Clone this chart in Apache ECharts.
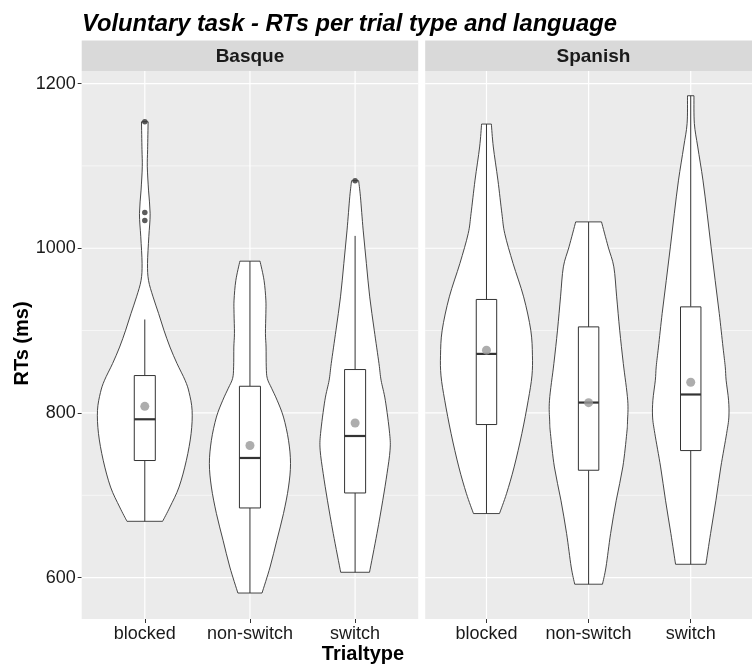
<!DOCTYPE html>
<html>
<head>
<meta charset="utf-8">
<script src="https://cdn.jsdelivr.net/npm/echarts@6/dist/echarts.min.js"></script>
<style>
html,body{margin:0;padding:0;background:#ffffff;}
#chart{width:752px;height:665px;}
</style>
</head>
<body>
<div id="chart"></div>
<script>
// ---------------- data ----------------
const categories = ['blocked', 'non-switch', 'switch'];
const languages = ['Basque', 'Spanish'];
const yTickValues = [600, 800, 1000, 1200];
const yMinorValues = [700, 900, 1100];

// box statistics: [lower whisker, Q1, median, Q3, upper whisker]
const boxBasque = [
  [668.4, 742.2, 792.3, 845.4, 913.5],
  [581.3, 684.6, 745.3, 832.4, 984.3],
  [606.5, 702.8, 772.0, 852.7, 1015.0]
];
const boxSpanish = [
  [677.8, 785.9, 871.7, 937.8, 1150.8],
  [592.0, 730.4, 812.6, 904.5, 1032.0],
  [616.2, 754.3, 822.4, 928.8, 1185.2]
];
const meanBasque = [808.0, 760.4, 787.8];
const meanSpanish = [876.2, 812.5, 837.3];
const outliersBasque = [[1, 1153.6], [1, 1043.5], [1, 1033.8], [3, 1082.0]];
const outliersSpanish = [];

// violin density profiles: [RT, relative density], from top to bottom
const violinBasqueBlocked = [
  [1153.6, 3.3], [1120, 2.8], [1099, 2.5], [1070.6, 3.7], [1042, 5.3], [1014, 4.0],
  [981.5, 2.7], [961, 3.7], [941, 8.2], [920.8, 13.7], [900.5, 19], [880, 25],
  [860, 32], [839.7, 40], [825, 44], [803, 47], [775, 46], [742.5, 41.3],
  [710, 34], [685.8, 25], [668.4, 17.7]
];
const violinBasqueNonSwitch = [
  [984.3, 10], [961, 14], [937, 15.8], [920.8, 15.8], [896.5, 15.4], [880, 16],
  [856, 16.2], [842, 17.2], [830, 21.5], [815.4, 27], [795, 33.3], [766.8, 38.3],
  [738.5, 40.3], [710, 38.3], [677.8, 33.3], [645.3, 26.7], [612.9, 20], [581.3, 12]
];
const violinBasqueSwitch = [
  [1082, 3.5], [1062.5, 5.3], [1022, 8], [981.5, 11.2], [941, 14.5], [900.5, 19],
  [860, 23.7], [839.7, 25.8], [815.4, 30], [775, 34.3], [754.7, 34.7], [726.4, 31.7],
  [694, 27.5], [653.5, 21.7], [606.5, 14.3]
];
const violinSpanishBlocked = [
  [1150.8, 5], [1123, 7], [1082.7, 11.7], [1042, 15.8], [1017.8, 18.7], [981.5, 27.2],
  [941, 38], [900.5, 45.3], [870, 47], [845, 46.5], [815.4, 42.7], [775, 36.2],
  [734.4, 28.3], [702, 20.5], [677.8, 13.3]
];
const violinSpanishNonSwitch = [
  [1032, 13.2], [1001.7, 20], [977.4, 25.8], [941, 28.7], [900.5, 31.8], [860, 35.5],
  [815.4, 40], [790, 39.8], [775, 39], [734.4, 35], [694, 28.3], [653.5, 22.5],
  [612.9, 17.8], [592, 14.2]
];
const violinSpanishSwitch = [
  [1185.2, 3.3], [1151.6, 3.7], [1123, 7.2], [1082.7, 12.5], [1042, 16.8], [1001.7, 20.8],
  [961, 25], [920.8, 29.2], [880, 33], [856, 35.3], [839.7, 36.2], [815.4, 38.7],
  [795, 39], [775, 36.7], [734.4, 30.8], [694, 25.8], [653.5, 20.3], [616.2, 15.5]
];

// ---------------- assembly ----------------
const violins = [
  [violinBasqueBlocked, violinBasqueNonSwitch, violinBasqueSwitch],
  [violinSpanishBlocked, violinSpanishNonSwitch, violinSpanishSwitch]
];
const boxes = [boxBasque, boxSpanish];
const means = [meanBasque, meanSpanish];
const outliers = [outliersBasque, outliersSpanish];

let maxDensity = 0;
violins.forEach(g => g.forEach(v => v.forEach(p => { if (p[1] > maxDensity) maxDensity = p[1]; })));
const violinHalfWidth = 0.45;   // ggplot violin width 0.9
const boxHalfWidth = 0.1;       // boxplot width 0.2

const Y_MIN = 549.75, Y_MAX = 1215.25;
const FONT = '"Liberation Sans", Arial, sans-serif';
const TXT = '#1A1A1A';

function f(n) { return n.toFixed(2); }
function splinePath(pts, move) {
  let d = (move ? 'M' : 'L') + f(pts[0][0]) + ' ' + f(pts[0][1]);
  for (let i = 0; i < pts.length - 1; i++) {
    const p0 = pts[i - 1] || pts[i], p1 = pts[i], p2 = pts[i + 1], p3 = pts[i + 2] || pts[i + 1];
    const c1x = p1[0] + (p2[0] - p0[0]) / 6, c1y = p1[1] + (p2[1] - p0[1]) / 6;
    const c2x = p2[0] - (p3[0] - p1[0]) / 6, c2y = p2[1] - (p3[1] - p1[1]) / 6;
    d += 'C' + f(c1x) + ' ' + f(c1y) + ' ' + f(c2x) + ' ' + f(c2y) + ' ' + f(p2[0]) + ' ' + f(p2[1]);
  }
  return d;
}

const grids = [
  { left: 81.7, top: 71, width: 336.5, height: 548, show: true, backgroundColor: '#EBEBEB', borderWidth: 0 },
  { left: 425.2, top: 71, width: 336.5, height: 548, show: true, backgroundColor: '#EBEBEB', borderWidth: 0 }
];

const xAxes = [0, 1].map(i => ({
  type: 'value', gridIndex: i, min: 0.4, max: 3.6,
  axisLine: { show: false }, splitLine: { show: false },
  axisTick: { show: true, customValues: [1, 2, 3], length: 4, lineStyle: { color: '#333333', width: 1 } },
  axisLabel: { customValues: [1, 2, 3], formatter: v => categories[Math.round(v) - 1],
    fontSize: 18, fontFamily: FONT, color: TXT, margin: 6 }
}));
const yAxes = [
  { type: 'value', gridIndex: 0, min: Y_MIN, max: Y_MAX,
    axisLine: { show: false }, splitLine: { show: false },
    axisTick: { show: true, customValues: yTickValues, length: 4, lineStyle: { color: '#333333', width: 1 } },
    axisLabel: { customValues: yTickValues, formatter: v => String(Math.round(v)),
      fontSize: 18, fontFamily: FONT, color: TXT, margin: 6 } },
  { type: 'value', gridIndex: 1, min: Y_MIN, max: Y_MAX, show: false,
    axisLine: { show: false }, splitLine: { show: false }, axisTick: { show: false }, axisLabel: { show: false } }
];

const series = [];
[0, 1].forEach(g => {
  // panel grid lines
  series.push({
    type: 'custom', xAxisIndex: g, yAxisIndex: g, z: 1, silent: true,
    data: [[2, 800]], encode: { x: 0, y: 1 },
    renderItem: (params, api) => {
      const cs = params.coordSys;
      const children = [];
      yMinorValues.forEach(v => {
        const py = api.coord([2, v])[1];
        children.push({ type: 'line', shape: { x1: cs.x, y1: py, x2: cs.x + cs.width, y2: py },
          style: { stroke: '#FFFFFF', lineWidth: 0.6 } });
      });
      yTickValues.forEach(v => {
        const py = api.coord([2, v])[1];
        children.push({ type: 'line', shape: { x1: cs.x, y1: py, x2: cs.x + cs.width, y2: py },
          style: { stroke: '#FFFFFF', lineWidth: 1.2 } });
      });
      [1, 2, 3].forEach(c => {
        const px = api.coord([c, 800])[0];
        children.push({ type: 'line', shape: { x1: px, y1: cs.y, x2: px, y2: cs.y + cs.height },
          style: { stroke: '#FFFFFF', lineWidth: 1.2 } });
      });
      return { type: 'group', children };
    }
  });
  // violins
  series.push({
    type: 'custom', xAxisIndex: g, yAxisIndex: g, z: 2, silent: true,
    data: categories.map((c, i) => [i + 1, 800]), encode: { x: 0, y: 1 },
    renderItem: (params, api) => {
      const cx = api.value(0);
      const prof = violins[g][params.dataIndex];
      const right = prof.map(p => api.coord([cx + violinHalfWidth * p[1] / maxDensity, p[0]]));
      const left = prof.map(p => api.coord([cx - violinHalfWidth * p[1] / maxDensity, p[0]])).reverse();
      const d = splinePath(right, true) + splinePath(left, false) + 'Z';
      return { type: 'path', shape: { pathData: d },
        style: { fill: '#FFFFFF', stroke: '#333333', lineWidth: 0.9 } };
    }
  });
  // boxplots
  series.push({
    type: 'custom', xAxisIndex: g, yAxisIndex: g, z: 3, silent: true,
    data: boxes[g].map((b, i) => [i + 1].concat(b)), encode: { x: 0, y: [1, 2, 3, 4, 5] },
    renderItem: (params, api) => {
      const cx = api.value(0);
      const lw = api.coord([cx, api.value(1)]);
      const q1 = api.coord([cx, api.value(2)]);
      const md = api.coord([cx, api.value(3)]);
      const q3 = api.coord([cx, api.value(4)]);
      const uw = api.coord([cx, api.value(5)]);
      const xl = api.coord([cx - boxHalfWidth, 800])[0];
      const xr = api.coord([cx + boxHalfWidth, 800])[0];
      const st = { stroke: '#333333', lineWidth: 1 };
      return { type: 'group', children: [
        { type: 'line', shape: { x1: uw[0], y1: uw[1], x2: q3[0], y2: q3[1] }, style: st },
        { type: 'line', shape: { x1: lw[0], y1: lw[1], x2: q1[0], y2: q1[1] }, style: st },
        { type: 'rect', shape: { x: xl, y: q3[1], width: xr - xl, height: q1[1] - q3[1] },
          style: { fill: '#FFFFFF', stroke: '#333333', lineWidth: 1 } },
        { type: 'line', shape: { x1: xl, y1: md[1], x2: xr, y2: md[1] },
          style: { stroke: '#333333', lineWidth: 2.2 } }
      ] };
    }
  });
  // means
  series.push({
    type: 'scatter', xAxisIndex: g, yAxisIndex: g, z: 4, silent: true,
    symbol: 'circle', symbolSize: 9,
    itemStyle: { color: '#999999' },
    data: means[g].map((m, i) => [i + 1, m])
  });
  // outliers
  series.push({
    type: 'scatter', xAxisIndex: g, yAxisIndex: g, z: 4, silent: true,
    symbol: 'circle', symbolSize: 5.5,
    itemStyle: { color: '#333333' },
    data: outliers[g]
  });
});

const graphic = [
  { type: 'text', x: 82, y: 24, style: { text: 'Voluntary task - RTs per trial type and language',
      font: 'italic bold 23.7px ' + FONT, fill: '#000000', align: 'left', verticalAlign: 'middle' } },
  { type: 'rect', shape: { x: 81.7, y: 40.5, width: 336.5, height: 30.5 }, style: { fill: '#D9D9D9' } },
  { type: 'rect', shape: { x: 425.2, y: 40.5, width: 336.5, height: 30.5 }, style: { fill: '#D9D9D9' } },
  { type: 'text', x: 81.7 + 336.5 / 2, y: 56.5, style: { text: languages[0],
      font: 'bold 19px ' + FONT, fill: TXT, align: 'center', verticalAlign: 'middle' } },
  { type: 'text', x: 425.2 + 336.5 / 2, y: 56.5, style: { text: languages[1],
      font: 'bold 19px ' + FONT, fill: TXT, align: 'center', verticalAlign: 'middle' } },
  { type: 'text', x: 22, y: 343.5, rotation: Math.PI / 2, style: { text: 'RTs (ms)',
      font: 'bold 20px ' + FONT, fill: '#000000', align: 'center', verticalAlign: 'middle' } },
  { type: 'text', x: 363, y: 654, style: { text: 'Trialtype',
      font: 'bold 20px ' + FONT, fill: '#000000', align: 'center', verticalAlign: 'middle' } }
];

const chart = echarts.init(document.getElementById('chart'), null, { renderer: 'canvas' });
chart.setOption({
  animation: false,
  backgroundColor: '#FFFFFF',
  grid: grids,
  xAxis: xAxes,
  yAxis: yAxes,
  series,
  graphic
});
</script>
</body>
</html>
